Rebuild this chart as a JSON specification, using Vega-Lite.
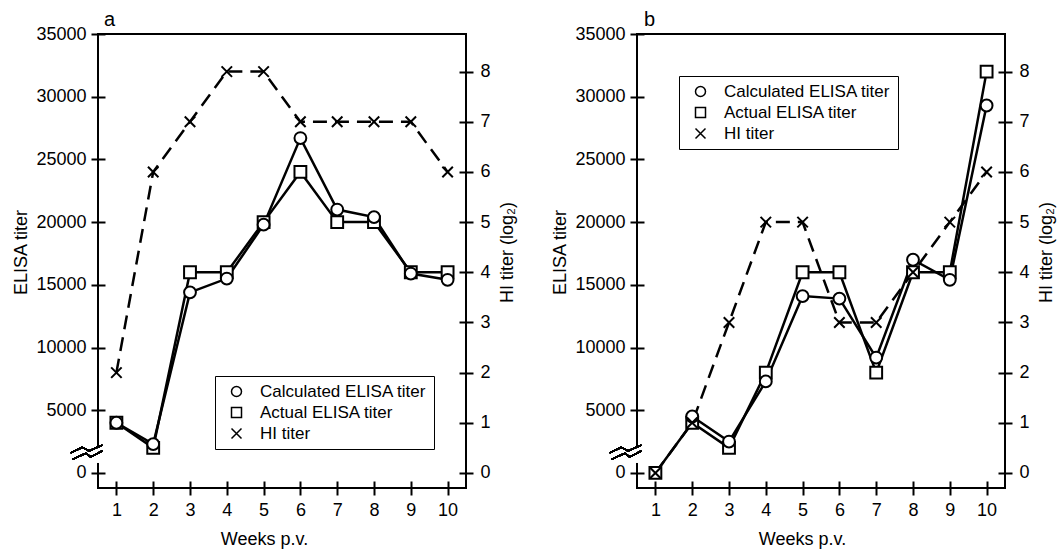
{
  "$schema": "https://vega.github.io/schema/vega-lite/v6.json",
  "padding": {"top": 9, "left": 11, "right": 2, "bottom": 5},
  "background": "white",
  "datasets": {
    "a": [
      {"week": 1, "series": "Actual ELISA titer", "value": 4000},
      {"week": 2, "series": "Actual ELISA titer", "value": 2000},
      {"week": 3, "series": "Actual ELISA titer", "value": 16000},
      {"week": 4, "series": "Actual ELISA titer", "value": 16000},
      {"week": 5, "series": "Actual ELISA titer", "value": 20000},
      {"week": 6, "series": "Actual ELISA titer", "value": 24000},
      {"week": 7, "series": "Actual ELISA titer", "value": 20000},
      {"week": 8, "series": "Actual ELISA titer", "value": 20000},
      {"week": 9, "series": "Actual ELISA titer", "value": 16000},
      {"week": 10, "series": "Actual ELISA titer", "value": 16000},
      {"week": 1, "series": "Calculated ELISA titer", "value": 4000},
      {"week": 2, "series": "Calculated ELISA titer", "value": 2300},
      {"week": 3, "series": "Calculated ELISA titer", "value": 14400},
      {"week": 4, "series": "Calculated ELISA titer", "value": 15500},
      {"week": 5, "series": "Calculated ELISA titer", "value": 19800},
      {"week": 6, "series": "Calculated ELISA titer", "value": 26700},
      {"week": 7, "series": "Calculated ELISA titer", "value": 21000},
      {"week": 8, "series": "Calculated ELISA titer", "value": 20400},
      {"week": 9, "series": "Calculated ELISA titer", "value": 15900},
      {"week": 10, "series": "Calculated ELISA titer", "value": 15400},
      {"week": 1, "series": "HI titer", "value": 2},
      {"week": 2, "series": "HI titer", "value": 6},
      {"week": 3, "series": "HI titer", "value": 7},
      {"week": 4, "series": "HI titer", "value": 8},
      {"week": 5, "series": "HI titer", "value": 8},
      {"week": 6, "series": "HI titer", "value": 7},
      {"week": 7, "series": "HI titer", "value": 7},
      {"week": 8, "series": "HI titer", "value": 7},
      {"week": 9, "series": "HI titer", "value": 7},
      {"week": 10, "series": "HI titer", "value": 6}
    ],
    "b": [
      {"week": 1, "series": "Actual ELISA titer", "value": 0},
      {"week": 2, "series": "Actual ELISA titer", "value": 4000},
      {"week": 3, "series": "Actual ELISA titer", "value": 2000},
      {"week": 4, "series": "Actual ELISA titer", "value": 8000},
      {"week": 5, "series": "Actual ELISA titer", "value": 16000},
      {"week": 6, "series": "Actual ELISA titer", "value": 16000},
      {"week": 7, "series": "Actual ELISA titer", "value": 8000},
      {"week": 8, "series": "Actual ELISA titer", "value": 16000},
      {"week": 9, "series": "Actual ELISA titer", "value": 16000},
      {"week": 10, "series": "Actual ELISA titer", "value": 32000},
      {"week": 2, "series": "Calculated ELISA titer", "value": 4500},
      {"week": 3, "series": "Calculated ELISA titer", "value": 2500},
      {"week": 4, "series": "Calculated ELISA titer", "value": 7300},
      {"week": 5, "series": "Calculated ELISA titer", "value": 14100},
      {"week": 6, "series": "Calculated ELISA titer", "value": 13900},
      {"week": 7, "series": "Calculated ELISA titer", "value": 9200},
      {"week": 8, "series": "Calculated ELISA titer", "value": 17000},
      {"week": 9, "series": "Calculated ELISA titer", "value": 15400},
      {"week": 10, "series": "Calculated ELISA titer", "value": 29300},
      {"week": 1, "series": "HI titer", "value": 0},
      {"week": 2, "series": "HI titer", "value": 1},
      {"week": 3, "series": "HI titer", "value": 3},
      {"week": 4, "series": "HI titer", "value": 5},
      {"week": 5, "series": "HI titer", "value": 5},
      {"week": 6, "series": "HI titer", "value": 3},
      {"week": 7, "series": "HI titer", "value": 3},
      {"week": 8, "series": "HI titer", "value": 4},
      {"week": 9, "series": "HI titer", "value": 5},
      {"week": 10, "series": "HI titer", "value": 6}
    ]
  },
  "hconcat": [
    {
      "width": 368,
      "height": 454,
      "data": {"name": "a"},
      "title": {"text": "a", "anchor": "start", "frame": "group", "fontSize": 20, "fontWeight": "normal", "font": "Liberation Sans", "dx": 6, "offset": -5, "color": "black"},
      "layer": [
        {
          "transform": [{"filter": "datum.series !== 'HI titer'"}],
          "mark": {"type": "line", "stroke": "black", "strokeWidth": 2.5},
          "encoding": {
            "x": {"field": "week", "type": "quantitative", "scale": {"domain": [0.5, 10.5], "nice": false, "zero": false},
                  "axis": {"orient": "bottom", "values": [1, 2, 3, 4, 5, 6, 7, 8, 9, 10], "offset": -7, "tickSize": 14, "tickWidth": 2, "domain": false, "labelFontSize": 18, "labelPadding": 6, "title": "Weeks p.v.", "titleFontSize": 18, "titlePadding": 11, "titleX": 166}},
            "y": {"field": "value", "type": "quantitative", "scale": {"domain": [-1200, 35000], "nice": false, "zero": false},
                  "axis": {"orient": "left", "values": [0, 5000, 10000, 15000, 20000, 25000, 30000, 35000], "format": "d", "offset": -7, "tickSize": 14, "tickWidth": 2, "domain": false, "labelFontSize": 18, "labelPadding": 5, "title": "ELISA titer", "titleFontSize": 18, "titlePadding": 5, "titleY": 218}},
            "detail": {"field": "series"}
          }
        },
        {
          "transform": [{"filter": "datum.series === 'HI titer'"}],
          "mark": {"type": "line", "stroke": "black", "strokeWidth": 2.5, "strokeDash": [14, 8]},
          "encoding": {
            "x": {"field": "week", "type": "quantitative", "scale": {"domain": [0.5, 10.5], "nice": false, "zero": false}},
            "y": {"field": "value", "type": "quantitative", "scale": {"domain": [-0.3, 8.75], "nice": false, "zero": false},
                  "axis": {"orient": "right", "values": [0, 1, 2, 3, 4, 5, 6, 7, 8], "offset": -7, "tickSize": 14, "tickWidth": 2, "domain": false, "labelFontSize": 18, "labelPadding": 7, "title": "HI titer (log₂)", "titleFontSize": 18, "titleAngle": 270, "titleBaseline": "top", "titlePadding": 8, "titleY": 218}}
          }
        },
        {
          "transform": [{"filter": "datum.series !== 'HI titer'"}],
          "mark": {"type": "point", "filled": true, "fill": "white", "stroke": "black", "strokeWidth": 2, "size": 140, "opacity": 1},
          "encoding": {
            "x": {"field": "week", "type": "quantitative", "scale": {"domain": [0.5, 10.5], "nice": false, "zero": false}},
            "y": {"field": "value", "type": "quantitative", "scale": {"domain": [-1200, 35000], "nice": false, "zero": false}, "axis": null},
            "shape": {"field": "series", "type": "nominal",
                      "scale": {"domain": ["Calculated ELISA titer", "Actual ELISA titer", "HI titer"], "range": ["circle", "square", "M-1,-1L1,1M-1,1L1,-1"]},
                      "legend": {"orient": "none", "legendX": 117, "legendY": 342, "title": null, "strokeColor": "black", "fillColor": "white", "padding": 7, "labelFontSize": 17, "labelFont": "Liberation Sans", "labelColor": "black", "labelLimit": 400, "symbolSize": 100, "symbolOffset": 6, "labelOffset": 15, "rowPadding": 3,
                                 "encode": {"symbols": {"update": {"fill": {"value": "white"}, "stroke": {"value": "black"}, "strokeWidth": {"value": 2}, "opacity": {"value": 1}}}}}}
          }
        },
        {
          "transform": [{"filter": "datum.series === 'HI titer'"}],
          "mark": {"type": "point", "filled": false, "stroke": "black", "strokeWidth": 2, "size": 110, "opacity": 1},
          "encoding": {
            "x": {"field": "week", "type": "quantitative", "scale": {"domain": [0.5, 10.5], "nice": false, "zero": false}},
            "y": {"field": "value", "type": "quantitative", "scale": {"domain": [-0.3, 8.75], "nice": false, "zero": false}, "axis": null},
            "shape": {"datum": "HI titer", "type": "nominal"}
          }
        },
        {
          "mark": {"type": "point", "shape": "square", "filled": true, "fill": "white", "strokeWidth": 0, "size": 256, "opacity": 1},
          "encoding": {
            "x": {"datum": 0.5, "type": "quantitative", "scale": {"domain": [0.5, 10.5], "nice": false, "zero": false}},
            "y": {"datum": 1500, "type": "quantitative", "scale": {"domain": [-1200, 35000], "nice": false, "zero": false}, "axis": null}
          }
        },
        {
          "mark": {"type": "point", "shape": "M-2.73,-0.13L-1.57,-0.67L-0.9,-0.33L0.43,-0.9M-2.57,0.53L-1.23,-0.07L-0.73,0.27L0.43,-0.33", "filled": false, "stroke": "black", "strokeWidth": 1.5, "size": 400, "opacity": 1},
          "encoding": {
            "x": {"datum": 0.5, "type": "quantitative", "scale": {"domain": [0.5, 10.5], "nice": false, "zero": false}},
            "y": {"datum": 1500, "type": "quantitative", "scale": {"domain": [-1200, 35000], "nice": false, "zero": false}, "axis": null}
          }
        }
      ],
      "resolve": {"scale": {"y": "independent"}}
    },
    {
      "width": 368,
      "height": 454,
      "data": {"name": "b"},
      "title": {"text": "b", "anchor": "start", "frame": "group", "fontSize": 20, "fontWeight": "normal", "font": "Liberation Sans", "dx": 7, "offset": -5, "color": "black"},
      "layer": [
        {
          "transform": [{"filter": "datum.series !== 'HI titer'"}],
          "mark": {"type": "line", "stroke": "black", "strokeWidth": 2.5},
          "encoding": {
            "x": {"field": "week", "type": "quantitative", "scale": {"domain": [0.5, 10.5], "nice": false, "zero": false},
                  "axis": {"orient": "bottom", "values": [1, 2, 3, 4, 5, 6, 7, 8, 9, 10], "offset": -7, "tickSize": 14, "tickWidth": 2, "domain": false, "labelFontSize": 18, "labelPadding": 6, "title": "Weeks p.v.", "titleFontSize": 18, "titlePadding": 11, "titleX": 165}},
            "y": {"field": "value", "type": "quantitative", "scale": {"domain": [-1200, 35000], "nice": false, "zero": false},
                  "axis": {"orient": "left", "values": [0, 5000, 10000, 15000, 20000, 25000, 30000, 35000], "format": "d", "offset": -7, "tickSize": 14, "tickWidth": 2, "domain": false, "labelFontSize": 18, "labelPadding": 5, "title": "ELISA titer", "titleFontSize": 18, "titlePadding": 5, "titleY": 218}},
            "detail": {"field": "series"}
          }
        },
        {
          "transform": [{"filter": "datum.series === 'HI titer'"}],
          "mark": {"type": "line", "stroke": "black", "strokeWidth": 2.5, "strokeDash": [14, 8]},
          "encoding": {
            "x": {"field": "week", "type": "quantitative", "scale": {"domain": [0.5, 10.5], "nice": false, "zero": false}},
            "y": {"field": "value", "type": "quantitative", "scale": {"domain": [-0.3, 8.75], "nice": false, "zero": false},
                  "axis": {"orient": "right", "values": [0, 1, 2, 3, 4, 5, 6, 7, 8], "offset": -7, "tickSize": 14, "tickWidth": 2, "domain": false, "labelFontSize": 18, "labelPadding": 7, "title": "HI titer (log₂)", "titleFontSize": 18, "titleAngle": 270, "titleBaseline": "top", "titlePadding": 8, "titleY": 218}}
          }
        },
        {
          "transform": [{"filter": "datum.series !== 'HI titer'"}],
          "mark": {"type": "point", "filled": true, "fill": "white", "stroke": "black", "strokeWidth": 2, "size": 140, "opacity": 1},
          "encoding": {
            "x": {"field": "week", "type": "quantitative", "scale": {"domain": [0.5, 10.5], "nice": false, "zero": false}},
            "y": {"field": "value", "type": "quantitative", "scale": {"domain": [-1200, 35000], "nice": false, "zero": false}, "axis": null},
            "shape": {"field": "series", "type": "nominal",
                      "scale": {"domain": ["Calculated ELISA titer", "Actual ELISA titer", "HI titer"], "range": ["circle", "square", "M-1,-1L1,1M-1,1L1,-1"]},
                      "legend": {"orient": "none", "legendX": 42, "legendY": 42, "title": null, "strokeColor": "black", "fillColor": "white", "padding": 7, "labelFontSize": 17, "labelFont": "Liberation Sans", "labelColor": "black", "labelLimit": 400, "symbolSize": 100, "symbolOffset": 6, "labelOffset": 15, "rowPadding": 3,
                                 "encode": {"symbols": {"update": {"fill": {"value": "white"}, "stroke": {"value": "black"}, "strokeWidth": {"value": 2}, "opacity": {"value": 1}}}}}}
          }
        },
        {
          "transform": [{"filter": "datum.series === 'HI titer'"}],
          "mark": {"type": "point", "filled": false, "stroke": "black", "strokeWidth": 2, "size": 110, "opacity": 1},
          "encoding": {
            "x": {"field": "week", "type": "quantitative", "scale": {"domain": [0.5, 10.5], "nice": false, "zero": false}},
            "y": {"field": "value", "type": "quantitative", "scale": {"domain": [-0.3, 8.75], "nice": false, "zero": false}, "axis": null},
            "shape": {"datum": "HI titer", "type": "nominal"}
          }
        },
        {
          "mark": {"type": "point", "shape": "square", "filled": true, "fill": "white", "strokeWidth": 0, "size": 256, "opacity": 1},
          "encoding": {
            "x": {"datum": 0.5, "type": "quantitative", "scale": {"domain": [0.5, 10.5], "nice": false, "zero": false}},
            "y": {"datum": 1500, "type": "quantitative", "scale": {"domain": [-1200, 35000], "nice": false, "zero": false}, "axis": null}
          }
        },
        {
          "mark": {"type": "point", "shape": "M-2.73,-0.13L-1.57,-0.67L-0.9,-0.33L0.43,-0.9M-2.57,0.53L-1.23,-0.07L-0.73,0.27L0.43,-0.33", "filled": false, "stroke": "black", "strokeWidth": 1.5, "size": 400, "opacity": 1},
          "encoding": {
            "x": {"datum": 0.5, "type": "quantitative", "scale": {"domain": [0.5, 10.5], "nice": false, "zero": false}},
            "y": {"datum": 1500, "type": "quantitative", "scale": {"domain": [-1200, 35000], "nice": false, "zero": false}, "axis": null}
          }
        }
      ],
      "resolve": {"scale": {"y": "independent"}}
    }
  ],
  "spacing": 32,
  "resolve": {"scale": {"shape": "independent"}, "legend": {"shape": "independent"}},
  "config": {
    "font": "Liberation Sans",
    "view": {"stroke": "black", "strokeWidth": 2},
    "axis": {"labelColor": "black", "titleColor": "black", "tickColor": "black", "labelFont": "Liberation Sans", "titleFont": "Liberation Sans", "titleFontWeight": "normal", "grid": false},
    "legend": {"labelFont": "Liberation Sans"}
  }
}
